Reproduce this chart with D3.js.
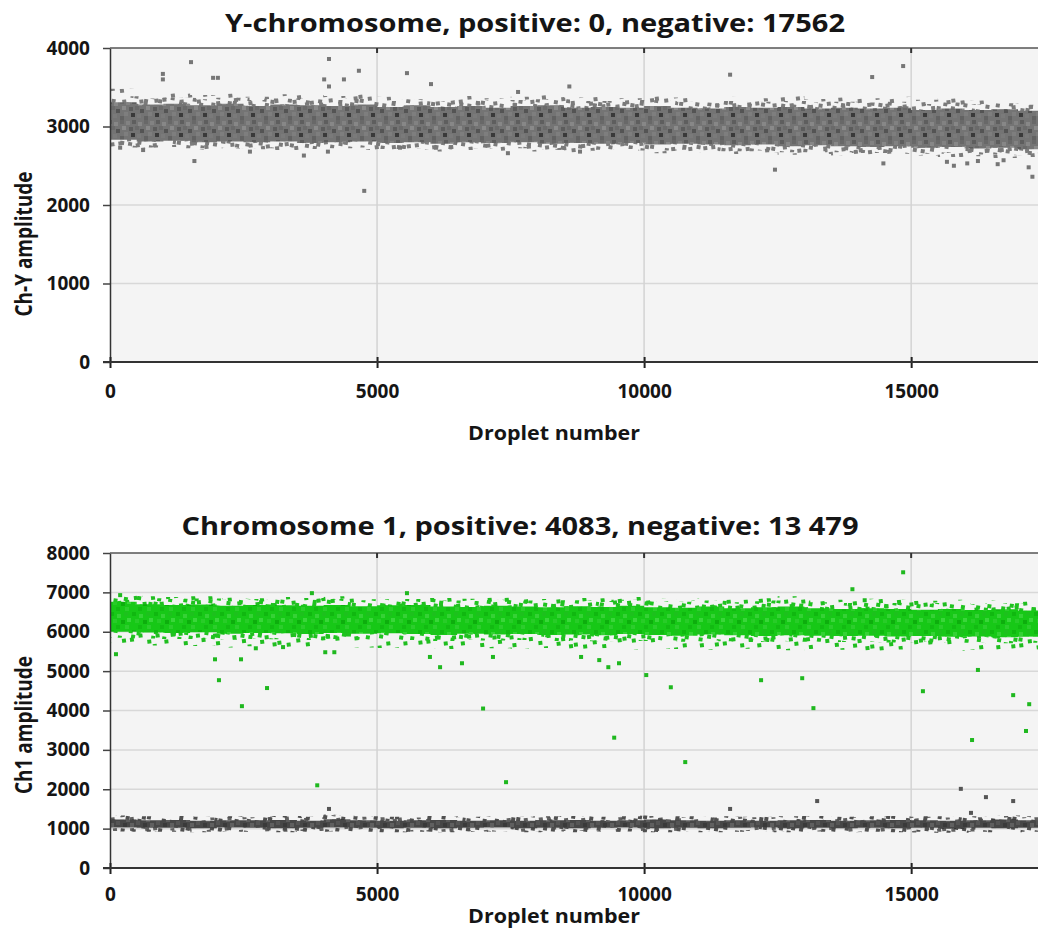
<!DOCTYPE html>
<html>
<head>
<meta charset="utf-8">
<script src="https://cdn.jsdelivr.net/npm/d3@7"></script>
<style>
    body { margin: 0; background: #fff; }
    svg { display: block; }
    text { font-family: "Open Sans", "Noto Sans", sans-serif; font-weight: 700; fill: #151515; }
</style>
</head>
<body>
<svg id="chart" width="1038" height="928"></svg>
<script>
const bandX = [0,500,1000,1500,2000,2500,3000,3500,4000,4500,5000,5500,6000,6500,7000,7500,8000,8500,9000,9500,10000,10500,11000,11500,12000,12500,13000,13500,14000,14500,15000,15500,16000,16500,17000,17500];

// Ch-Y negative cloud: scatter top, dense top, dense bottom, scatter bottom
const chYHi  = [3480,3420,3440,3400,3420,3380,3410,3400,3390,3420,3380,3400,3370,3390,3360,3380,3400,3370,3380,3360,3390,3370,3350,3380,3360,3390,3350,3370,3360,3380,3340,3360,3330,3350,3320,3330];
const chYTop = [3310,3280,3290,3270,3290,3260,3280,3270,3260,3280,3250,3270,3250,3260,3240,3260,3270,3240,3250,3240,3260,3240,3230,3250,3240,3250,3230,3240,3230,3240,3210,3230,3210,3220,3200,3210];
const chYBot = [2830,2810,2820,2800,2810,2800,2810,2790,2800,2810,2790,2800,2780,2800,2790,2800,2780,2790,2780,2790,2770,2780,2770,2760,2770,2750,2760,2750,2740,2750,2730,2740,2720,2730,2710,2720];
const chYLo  = [2730,2720,2740,2700,2720,2710,2700,2690,2710,2700,2690,2700,2680,2700,2690,2680,2700,2670,2690,2680,2660,2680,2670,2650,2670,2640,2650,2630,2640,2620,2630,2610,2620,2600,2610,2600];

// Ch-Y droplets lying outside the cloud [droplet, amplitude]
const chYOutliers = [
    [190,2730],[620,2700],[990,3670],[990,3600],[1517,3820],[1580,2560],[1930,3620],[2020,3620],
    [2620,2680],[3630,2630],[4010,3600],[4080,2680],[4100,3860],[4100,3510],[4380,3600],[4660,3710],
    [4760,2180],[5430,2730],[5560,3680],[6010,3540],[7450,2660],[7640,3440],[8600,3510],[8800,2680],
    [11610,3660],[12450,2450],[14270,3630],[14480,2530],[14850,3770],[15670,2550],[15800,2500],
    [16050,2530],[16250,2560],[16620,2520],[16730,2570],[17200,2480],[17270,2360]
];

// Ch1 positive cloud (green)
const ch1PosHi  = [6960,6900,6880,6900,6870,6850,6880,6860,6900,6850,6870,6900,6860,6840,6870,6850,6830,6860,6850,6880,6840,6830,6860,6820,6850,6900,6830,6810,6840,6820,6790,6810,6780,6800,6770,6790];
const ch1PosTop = [6760,6700,6680,6690,6660,6680,6670,6660,6680,6650,6670,6680,6640,6630,6660,6640,6620,6650,6630,6660,6620,6610,6640,6600,6620,6640,6600,6580,6600,6580,6560,6580,6550,6570,6540,6560];
const ch1PosBot = [6000,5980,5970,5990,5950,5970,5960,5940,5970,5950,5960,5940,5920,5950,5930,5940,5920,5930,5910,5940,5920,5900,5930,5910,5890,5910,5900,5890,5900,5880,5890,5870,5880,5860,5870,5860];
const ch1PosLo  = [5700,5650,5620,5640,5600,5630,5610,5580,5620,5600,5590,5610,5560,5600,5580,5570,5590,5560,5580,5550,5570,5560,5540,5570,5550,5530,5560,5540,5520,5550,5530,5510,5540,5520,5500,5520];

// Ch1 negative cloud (dark grey)
const ch1NegHi  = [1320,1290,1310,1280,1300,1290,1310,1280,1370,1300,1290,1280,1300,1290,1310,1280,1290,1300,1280,1290,1320,1290,1280,1300,1290,1280,1300,1290,1280,1310,1300,1280,1290,1320,1290,1300];
const ch1NegTop = [1230,1210,1220,1200,1210,1210,1220,1200,1240,1210,1200,1210,1220,1200,1210,1200,1210,1220,1200,1210,1230,1210,1200,1210,1200,1210,1220,1200,1210,1220,1210,1200,1210,1230,1210,1210];
const ch1NegBot = [1030,1020,1020,1010,1030,1020,1010,1020,1030,1020,1010,1020,1010,1020,1030,1010,1020,1010,1020,1030,1010,1020,1010,1020,1030,1010,1020,1010,1020,1010,1020,1000,1020,1010,1020,1010];
const ch1NegLo  = [940,930,950,920,940,930,920,940,930,940,920,930,920,940,930,920,930,940,920,930,910,930,920,940,930,920,930,910,920,930,900,920,930,910,920,930];

// Ch1 single droplets away from the clouds
const ch1PosOutliers = [
    [112,5430],[190,6930],[1966,5300],[2040,4770],[2453,5300],[2470,4110],[2730,5580],[2940,4570],
    [3240,5610],[3780,6980],[3880,2100],[4030,5480],[4200,5480],[5560,6980],[5990,5360],[6180,5100],
    [6590,5200],[6985,4050],[7170,5360],[7415,2180],[8820,5360],[9160,5280],[9330,5100],[9440,3310],
    [9530,5200],[10040,4900],[10500,4590],[10770,2690],[12190,4770],[12960,4820],[13170,4060],
    [13900,7080],[14130,6800],[14850,7510],[15220,4490],[16140,3250],[16250,5030],[16910,4390],
    [17150,3480],[17210,4160]
];
const ch1NegOutliers = [
    [4100,1500],[11610,1500],[13240,1700],[15930,2010],[16120,1400],[16400,1800],[16910,1700]
];

const yTicksTop = [0,1000,2000,3000,4000];
const yTicksBottom = [0,1000,2000,3000,4000,5000,6000,7000,8000];
const xTicks = [0,5000,10000,15000];

const svg = d3.select('#chart');
const W = 1038;
const x = d3.scaleLinear().domain([0, 17562]).range([110, 1048]);

// textures that stand in for the thousands of overlapping droplets
const defs = svg.append('defs');
function texture(id, w, h, base, squares, color, tilt) {
    const p = defs.append('pattern').attr('id', id)
        .attr('patternUnits', 'userSpaceOnUse').attr('width', w).attr('height', h);
    if (tilt) p.attr('patternTransform', `rotate(${tilt})`);
    if (base) p.append('rect').attr('width', w).attr('height', h).attr('fill', base);
    squares.forEach(s => p.append('rect')
        .attr('x', s[0]).attr('y', s[1]).attr('width', 4).attr('height', 4).attr('fill', s[2] || color));
}
const sparseSpots = [[2,3],[11,0],[19,7],[28,2],[36,9],[6,13],[15,18],[24,12],[33,21],[1,24],[10,27],[20,24],[29,29],[38,17],[43,3],[45,25]];
const midSpots = sparseSpots.concat([[7,6],[23,3],[41,13],[14,9],[30,16],[4,19],[17,31],[37,29],[25,34],[46,33],[1,33],[11,36]]);

texture('greyDense', 24, 20, '#747474', [
    [0,0,'#686868'],[6,1,'#828282'],[12,0,'#5e5e5e'],[18,2,'#878787'],[2,6,'#8a8a8a'],[9,7,'#5c5c5c'],
    [15,6,'#6a6a6a'],[20,9,'#545454'],[4,12,'#7e7e7e'],[11,13,'#3a3a3a'],[17,14,'#7a7a7a'],[0,16,'#626262']
]);
texture('greyMid', 49, 39, null, midSpots, '#7a7a7a', 9);
texture('greySparse', 49, 38, null, sparseSpots, '#7c7c7c', -7);
texture('greenDense', 22, 18, '#17c817', [
    [0,0,'#10b810'],[7,2,'#35d235'],[14,0,'#1dc11d'],[3,7,'#28cc28'],[11,8,'#0dae0d'],[17,6,'#3ad63a'],
    [6,13,'#12bb12'],[15,13,'#2ccd2c']
]);
texture('greenMid', 49, 39, null, midSpots, '#1fc31f', 9);
texture('greenSparse', 49, 38, null, sparseSpots, '#20be20', -7);
texture('blackDense', 20, 12, '#474747', [
    [0,0,'#333'],[6,2,'#5c5c5c'],[12,0,'#2c2c2c'],[16,5,'#555'],[3,7,'#3a3a3a'],[10,7,'#606060']
]);
texture('blackMid', 49, 39, null, midSpots, '#505050', 9);
texture('blackSparse', 49, 38, null, sparseSpots, '#616161', -7);

function drawPanel(cfg) {
    const y = d3.scaleLinear().domain(cfg.yDomain).range(cfg.yRange);
    const top = cfg.yRange[1], bottom = cfg.yRange[0];
    const clipId = 'clip-' + cfg.id;

    defs.append('clipPath').attr('id', clipId)
        .append('rect').attr('x', 110).attr('y', top).attr('width', W - 110).attr('height', bottom - top);

    const g = svg.append('g');
    g.append('rect').attr('x', 110).attr('y', top).attr('width', W - 110).attr('height', bottom - top)
        .attr('fill', '#f4f4f4');

    // grid
    g.selectAll('.hgrid').data(cfg.yTicks.slice(1, -1)).enter().append('line')
        .attr('x1', 110).attr('x2', W).attr('y1', d => y(d)).attr('y2', d => y(d))
        .attr('stroke', '#d8d8d8').attr('stroke-width', 1.5);
    g.selectAll('.vgrid').data(xTicks.slice(1)).enter().append('line')
        .attr('x1', d => x(d)).attr('x2', d => x(d)).attr('y1', top).attr('y2', bottom)
        .attr('stroke', '#d3d3d3').attr('stroke-width', 1.5);

    const plot = g.append('g').attr('clip-path', `url(#${clipId})`);

    cfg.bands.forEach(b => {
        const outer = d3.area().curve(d3.curveStepAfter)
            .x((d, i) => x(bandX[i])).y0((d, i) => y(b.lo[i])).y1((d, i) => y(b.hi[i]));
        const inner = d3.area().curve(d3.curveStepAfter)
            .x((d, i) => x(bandX[i])).y0((d, i) => y(b.bot[i])).y1((d, i) => y(b.top[i]));
        plot.append('path').datum(bandX).attr('d', outer).attr('fill', `url(#${b.tex}Sparse)`);
        plot.append('path').datum(bandX).attr('d', inner).attr('fill', 'none')
            .attr('stroke', `url(#${b.tex}Mid)`).attr('stroke-width', b.rim);
        plot.append('path').datum(bandX).attr('d', inner).attr('fill', `url(#${b.tex}Dense)`);
    });

    cfg.outliers.forEach(o => {
        plot.selectAll(null).data(o.data).enter().append('rect')
            .attr('x', d => x(d[0]) - 2).attr('y', d => y(d[1]) - 2)
            .attr('width', 4).attr('height', 4).attr('fill', o.color);
    });

    // axes
    const yAxis = g.append('g').attr('transform', 'translate(110,0)')
        .call(d3.axisLeft(y).tickValues(cfg.yTicks).tickFormat(d3.format('d'))
            .tickSize(7).tickPadding(13).tickSizeOuter(0));
    yAxis.select('.domain').attr('stroke', '#333').attr('stroke-width', 1.5);
    yAxis.selectAll('.tick line').attr('stroke', '#444').attr('stroke-width', 1.5);
    yAxis.selectAll('.tick text').style('font-size', '19px').attr('fill', '#1a1a1a');

    const xAxis = g.append('g').attr('transform', `translate(0,${bottom})`)
        .call(d3.axisBottom(x).tickValues(xTicks).tickFormat(d3.format('d'))
            .tickSize(6).tickPadding(cfg.xTickPad).tickSizeOuter(0));
    xAxis.select('.domain').remove();
    xAxis.selectAll('.tick line').attr('y1', -5).attr('stroke', '#222').attr('stroke-width', 2);
    xAxis.selectAll('.tick text').style('font-size', '19px').attr('fill', '#1a1a1a');
    g.append('line').attr('x1', 103).attr('x2', W).attr('y1', bottom).attr('y2', bottom)
        .attr('stroke', '#333').attr('stroke-width', 2);

    // top frame with small marks
    g.append('line').attr('x1', 110).attr('x2', W).attr('y1', top).attr('y2', top)
        .attr('stroke', '#555').attr('stroke-width', 1.5);
    g.selectAll('.topmark').data(xTicks.slice(1)).enter().append('line')
        .attr('x1', d => x(d)).attr('x2', d => x(d)).attr('y1', top).attr('y2', top + 5)
        .attr('stroke', '#333').attr('stroke-width', 2);

    // texts (the source picture is a little stretched sideways)
    g.append('text').attr('x', cfg.titleX).attr('y', cfg.titleY).attr('text-anchor', 'middle')
        .attr('textLength', cfg.titleLen).attr('lengthAdjust', 'spacingAndGlyphs')
        .style('font-size', '25px').text(cfg.title);
    g.append('text').attr('x', 554).attr('y', cfg.xLabelY).attr('text-anchor', 'middle')
        .attr('textLength', 172).attr('lengthAdjust', 'spacingAndGlyphs')
        .style('font-size', '19px').text('Droplet number');
    g.append('text').attr('transform', `translate(32,${cfg.yLabelY}) rotate(-90) scale(1,1.2)`)
        .attr('text-anchor', 'middle').style('font-size', '19px').text(cfg.yLabel);
}

drawPanel({
    id: 'y',
    yDomain: [0, 4000], yRange: [362, 48], yTicks: yTicksTop,
    title: 'Y-chromosome, positive: 0, negative: 17562', titleX: 535, titleY: 32, titleLen: 620,
    yLabel: 'Ch-Y amplitude', yLabelY: 244, xLabelY: 440, xTickPad: 17,
    bands: [{hi: chYHi, top: chYTop, bot: chYBot, lo: chYLo, tex: 'grey', rim: 12}],
    outliers: [{data: chYOutliers, color: '#767676'}]
});

drawPanel({
    id: 'c1',
    yDomain: [0, 8000], yRange: [868, 553], yTicks: yTicksBottom,
    title: 'Chromosome 1, positive: 4083, negative: 13 479', titleX: 520, titleY: 535, titleLen: 677,
    yLabel: 'Ch1 amplitude', yLabelY: 725, xLabelY: 923, xTickPad: 14,
    bands: [
        {hi: ch1PosHi, top: ch1PosTop, bot: ch1PosBot, lo: ch1PosLo, tex: 'green', rim: 12},
        {hi: ch1NegHi, top: ch1NegTop, bot: ch1NegBot, lo: ch1NegLo, tex: 'black', rim: 8}
    ],
    outliers: [{data: ch1PosOutliers, color: '#1fb81f'}, {data: ch1NegOutliers, color: '#555'}]
});
</script>
</body>
</html>
